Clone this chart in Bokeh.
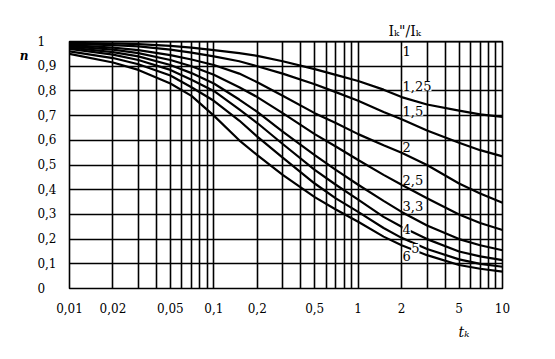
from bokeh.plotting import figure
from bokeh.models import Range1d, FixedTicker, Label, ColumnDataSource, LogAxis, LinearAxis
from bokeh.embed import file_html
from bokeh.resources import INLINE

# ---- data ----
t_k = [0.01, 0.02, 0.03, 0.05, 0.07, 0.1, 0.15, 0.2, 0.3, 0.5, 0.7, 1, 1.5, 2, 3, 5, 7, 10]
n_1 = [1.0] * len(t_k)
n_125 = [0.995, 0.992, 0.989, 0.982, 0.975, 0.965, 0.953, 0.942, 0.92, 0.888, 0.865, 0.84, 0.805, 0.775, 0.745, 0.72, 0.705, 0.695]
n_15 = [0.99, 0.985, 0.98, 0.967, 0.955, 0.94, 0.92, 0.9, 0.87, 0.827, 0.795, 0.76, 0.715, 0.685, 0.64, 0.59, 0.56, 0.535]
n_2 = [0.985, 0.975, 0.965, 0.945, 0.927, 0.905, 0.87, 0.835, 0.78, 0.71, 0.67, 0.625, 0.58, 0.55, 0.5, 0.425, 0.385, 0.347]
n_25 = [0.98, 0.967, 0.953, 0.925, 0.9, 0.865, 0.815, 0.775, 0.71, 0.625, 0.575, 0.52, 0.46, 0.42, 0.365, 0.3, 0.265, 0.237]
n_33 = [0.975, 0.957, 0.94, 0.905, 0.872, 0.83, 0.765, 0.715, 0.635, 0.54, 0.48, 0.42, 0.355, 0.31, 0.255, 0.2, 0.175, 0.155]
n_4 = [0.97, 0.947, 0.925, 0.885, 0.845, 0.8, 0.725, 0.67, 0.585, 0.48, 0.42, 0.36, 0.29, 0.25, 0.2, 0.15, 0.13, 0.115]
n_5 = [0.96, 0.933, 0.908, 0.862, 0.815, 0.76, 0.68, 0.615, 0.53, 0.425, 0.365, 0.31, 0.245, 0.205, 0.16, 0.118, 0.1, 0.088]
n_6 = [0.95, 0.915, 0.885, 0.83, 0.78, 0.7, 0.6, 0.54, 0.46, 0.37, 0.32, 0.27, 0.21, 0.175, 0.135, 0.095, 0.08, 0.068]

ratios = ["1", "1,25", "1,5", "2", "2,5", "3,3", "4", "5", "6"]
series = [n_1, n_125, n_15, n_2, n_25, n_33, n_4, n_5, n_6]
# label anchor (t, n) for each ratio label
label_t = [2.03, 2.03, 2.03, 2.03, 2.03, 2.03, 2.03, 2.33, 2.03]
label_n = [0.962, 0.82, 0.72, 0.573, 0.44, 0.334, 0.24, 0.163, 0.131]

x_major = [0.01, 0.02, 0.05, 0.1, 0.2, 0.5, 1, 2, 5, 10]
x_major_text = ["0,01", "0,02", "0,05", "0,1", "0,2", "0,5", "1", "2", "5", "10"]
x_minor = [0.03, 0.04, 0.06, 0.07, 0.08, 0.09, 0.3, 0.4, 0.6, 0.7, 0.8, 0.9, 3, 4, 6, 7, 8, 9]
y_major = [0, 0.1, 0.2, 0.3, 0.4, 0.5, 0.6, 0.7, 0.8, 0.9, 1.0]
y_major_text = ["0\u2007\u2008", "0,1", "0,2", "0,3", "0,4", "0,5", "0,6", "0,7", "0,8", "0,9", "1\u2007\u2008"]

# caption texts and where they sit
title_text = "I\u2096\"/I\u2096"
title_t = 2.1
xcap_text = "t\u2096"
xcap_t = 5.4
ycap_text = "n"
ycap_n = 0.94

FONT = "DejaVu Serif"

p = figure(width=539, height=343, x_axis_type="log",
           x_range=Range1d(0.01, 10), y_range=Range1d(0, 1),
           output_backend="svg", toolbar_location=None,
           min_border_left=69, min_border_right=37, min_border_top=41, min_border_bottom=55)
p.background_fill_color = "white"
p.border_fill_color = "white"
p.outline_line_color = "black"
p.outline_line_width = 1.6

p.xaxis.ticker = FixedTicker(ticks=x_major, minor_ticks=x_minor)
p.xaxis.major_label_overrides = {v: s for v, s in zip(x_major, x_major_text)}
p.yaxis.ticker = FixedTicker(ticks=y_major)
p.yaxis.major_label_overrides = {v: s for v, s in zip(y_major, y_major_text)}


def plain(ax, size="12px", style="normal"):
    ax.axis_line_color = None
    ax.major_tick_line_color = None
    ax.minor_tick_line_color = None
    ax.major_tick_out = 0
    ax.major_tick_in = 0
    ax.minor_tick_out = 0
    ax.minor_tick_in = 0
    ax.major_label_text_font = FONT
    ax.major_label_text_font_size = size
    ax.major_label_text_font_style = style
    ax.major_label_text_color = "black"


plain(p.xaxis[0])
plain(p.yaxis[0])
p.xaxis.major_label_standoff = 14
p.yaxis.major_label_standoff = 13

# caption axes (texts outside the frame)
top_ax = LogAxis(ticker=FixedTicker(ticks=[title_t]),
                 major_label_overrides={title_t: title_text})
plain(top_ax, "14px")
top_ax.major_label_standoff = 3
p.add_layout(top_ax, "above")

bot_ax = LogAxis(ticker=FixedTicker(ticks=[xcap_t]),
                 major_label_overrides={xcap_t: xcap_text})
plain(bot_ax, "14px", "italic")
bot_ax.major_label_standoff = 8
p.add_layout(bot_ax, "below")

left_ax = LinearAxis(ticker=FixedTicker(ticks=[ycap_n]),
                     major_label_overrides={ycap_n: ycap_text})
plain(left_ax, "12px", "bold italic")
left_ax.major_label_standoff = 6
p.add_layout(left_ax, "left")

p.xgrid.grid_line_color = "black"
p.xgrid.grid_line_width = 1.6
p.xgrid.minor_grid_line_color = "black"
p.xgrid.minor_grid_line_width = 1.6
p.ygrid.grid_line_color = "black"
p.ygrid.grid_line_width = 1.6

for r, ns in zip(ratios, series):
    src = ColumnDataSource(dict(t=t_k, n=ns))
    p.line("t", "n", source=src, line_color="black", line_width=2.2)

for r, lt, ln in zip(ratios, label_t, label_n):
    p.add_layout(Label(x=lt, y=ln, text=r, text_font=FONT, text_font_size="13px",
                       text_baseline="middle", text_align="left", text_color="black",
                       background_fill_color="white"))

open("out.html", "w").write(file_html(p, INLINE))
